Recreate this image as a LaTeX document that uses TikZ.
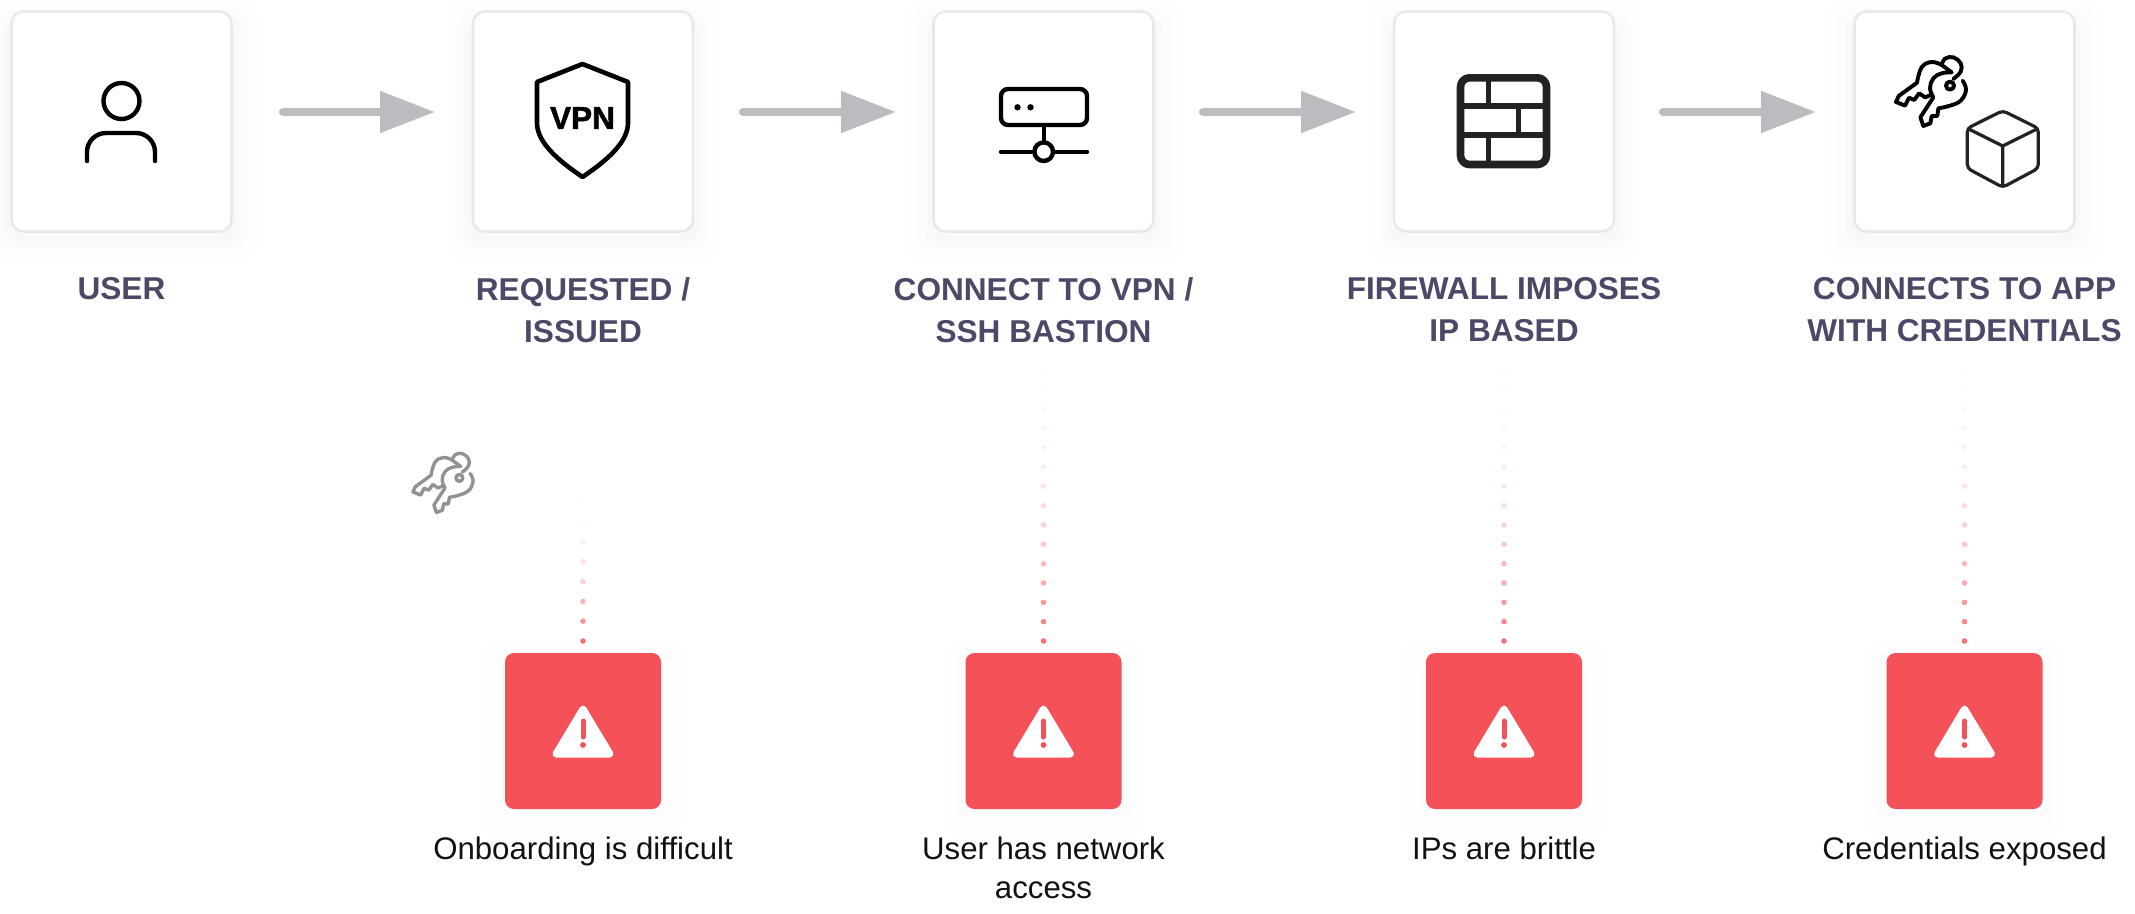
\documentclass[tikz,border=0pt]{standalone}
\usepackage{fontspec}
\setmainfont{Liberation Sans}
\newfontfamily\vpnfont{Liberation Sans}[FakeBold=1.6]
\usetikzlibrary{arrows.meta}
\definecolor{headc}{HTML}{4A4A68}
\definecolor{edgec}{HTML}{E8E8EF}
\definecolor{flowc}{HTML}{BBBCC0}
\definecolor{alertc}{HTML}{F45158}
\definecolor{ink}{HTML}{000000}
\definecolor{brick}{HTML}{222222}
\definecolor{labelc}{HTML}{111111}
\definecolor{keygray}{HTML}{8F9296}
\newcommand{\keysicon}[2]{%
  \begin{scope}[draw=#1,line width=#2,line join=round,line cap=round,tension=.7]
    \draw plot[smooth] coordinates {(215,75) (185,66) (155,82) (141,128)}
      -- (86,168) -- (78,186) -- (105,197) -- (117,173) -- (133,180) -- (147,160) -- (165,172) -- (183,165);
    \draw plot[smooth] coordinates {(278,122) (288,150) (272,182) (240,197) (205,205)}
      -- (202,228) -- (185,228) -- (181,250) -- (160,258) -- (151,232) -- (190,172);
    \draw plot[smooth] coordinates {(190,172) (180,145) (190,115) (215,100) (245,97)};
    \draw plot[smooth] coordinates {(215,75) (225,56) (250,52) (272,70) (272,95) (250,117)};
    \draw (215,75) -- (245,97);
    \draw (240,137) circle[radius=12];
  \end{scope}}
\tikzset{
  card/.style={draw=edgec,line width=2.6pt,fill=white,rounded corners=12pt,minimum width=220pt,minimum height=220pt,inner sep=0pt},
  alertbox/.style={fill=alertc,rounded corners=9pt,minimum width=156pt,minimum height=156pt,inner sep=0pt},
  head/.style={anchor=north,align=center,inner sep=0pt,text=headc,font=\bfseries\fontsize{31.6}{42}\selectfont},
  caption/.style={anchor=north,align=center,inner sep=0pt,text=labelc,font=\fontsize{31.2}{39.5}\selectfont},
  flow/.style={draw=flowc,line width=8pt,line cap=round,-{Triangle[length=55pt,width=40pt,fill=flowc,color=flowc]}},
  ico/.style={draw=ink,line width=4.4pt,line cap=round,line join=round},
  warn/.pic={
    \draw[fill=white,draw=white,line width=7pt,line join=round] (0,-22) -- (27,23) -- (-27,23) -- cycle;
    \draw[alertc,line width=5pt,line cap=round] (0,-10) -- (0,6);
    \fill[alertc] (0,14) circle[radius=2.9];
  }
}
\begin{document}
\begin{tikzpicture}[x=1pt,y=-1pt]
\useasboundingbox (0,0) rectangle (2135,913);
% soft shadows under the cards
\foreach \cx in {121.5,583,1043.5,1504,1964.5}{
  \foreach \g/\o in {26/0.008,20/0.01,14/0.012,9/0.016,5/0.024}{
    \fill[black!50!blue!40,opacity=\o,rounded corners=18pt]
      (\cx-110.5-\g,11-\g+12) rectangle (\cx+110.5+\g,232+\g+6);
  }
}
\foreach \cx in {583,1043.5,1504,1964.5}{
  \foreach \g/\o in {22/0.006,12/0.008,5/0.012}{
    \fill[black!50!blue!40,opacity=\o,rounded corners=14pt]
      (\cx-78-\g,653-\g+10) rectangle (\cx+78+\g,809+\g+6);
  }
}
% cards
\node[card] (c1) at (121.5,121.5) {};
\node[card] (c2) at (583,121.5) {};
\node[card] (c3) at (1043.5,121.5) {};
\node[card] (c4) at (1504,121.5) {};
\node[card] (c5) at (1964.5,121.5) {};
% arrows
\coordinate (s1) at (283,112); \coordinate (e1) at (435,112);
\coordinate (s2) at (743,112); \coordinate (e2) at (896,112);
\coordinate (s3) at (1203,112); \coordinate (e3) at (1356,112);
\coordinate (s4) at (1663,112); \coordinate (e4) at (1816,112);
\draw[flow] (s1) -- (e1);
\draw[flow] (s2) -- (e2);
\draw[flow] (s3) -- (e3);
\draw[flow] (s4) -- (e4);
% user icon
\draw[ico] (121.5,101) circle[radius=18];
\draw[ico] (87,161) -- (87,152) arc[start angle=180,end angle=270,radius=19] -- (136,133) arc[start angle=270,end angle=360,radius=19] -- (155,161);
% VPN icon
\draw[ico,line width=4.6pt,miter limit=3]
  (582.5,64) -- (537,82) -- (537,123) .. controls (537,145) and (565,165) .. (582.5,177)
  .. controls (600,165) and (628,145) .. (628,123) -- (628,82) -- cycle;
\node[inner sep=0pt,font=\vpnfont\bfseries\fontsize{31.5}{31.5}\selectfont,text=ink] (vpn) at (582.5,118) {VPN};
% server icon
\draw[ico,rounded corners=7pt] (1001,89) rectangle (1087,125);
\fill[ink] (1017.5,107.3) circle[radius=3.2] (1030.5,107.3) circle[radius=3.2];
\draw[ico] (1043.7,126) -- (1043.7,142);
\draw[ico] (1001,151.7) -- (1034,151.7) (1053.5,151.7) -- (1087,151.7);
\draw[ico] (1043.7,151.7) circle[radius=9.3];
% firewall icon
\draw[brick,line width=7.6pt,line join=round,rounded corners=9pt] (1460.5,77.8) rectangle (1546.5,164.5);
\draw[brick,line width=5.6pt]
  (1460,106) -- (1547,106) (1460,135) -- (1547,135)
  (1488.4,77) -- (1488.4,106) (1518.3,106) -- (1518.3,135) (1488.4,135) -- (1488.4,165);
% keys and cube
\begin{scope}[shift={(1870,40)},x=0.3333pt,y=-0.3333pt]
  \keysicon{ink}{3.9pt}
\end{scope}
\draw[brick,line width=3.2pt,line join=round,rounded corners=4pt]
  (2002.7,110.7) -- (1967.3,128.3) -- (1967.3,168.3) -- (2002.7,187.3) -- (2038.3,168.3) -- (2038.3,128.3) -- cycle;
\draw[brick,line width=3.2pt,line join=round]
  (1967.3,128.3) -- (2002.7,146) -- (2038.3,128.3) (2002.7,146) -- (2002.7,187.3);
\begin{scope}[shift={(390.7,438.7)},x=0.286pt,y=-0.286pt]
  \keysicon{keygray}{3.4pt}
\end{scope}
% headings
\node[head] (h1) at (121.5,277) {USER};
\node[head] (h2) at (583,277) {REQUESTED /\\ISSUED};
\node[head] (h3) at (1043.5,277) {CONNECT TO VPN /\\SSH BASTION};
\node[head] (h4) at (1504,277) {FIREWALL IMPOSES\\IP BASED};
\node[head] (h5) at (1964.5,277) {CONNECTS TO APP\\WITH CREDENTIALS};
% dotted leaders
\foreach \i in {0,...,7}{
  \pgfmathsetmacro{\o}{0.8*pow(1-\i/8,2.4)+0.015}
  \fill[alertc,opacity=\o] (583,641-19.8*\i) circle[radius=2.8];
}
\foreach \cx in {1043.5,1504,1964.5}{
  \foreach \i in {0,...,14}{
    \pgfmathsetmacro{\o}{0.8*pow(1-\i/15,2.4)+0.015}
    \fill[alertc,opacity=\o] (\cx,641-19.33*\i) circle[radius=2.8];
  }
}
% alert boxes
\node[alertbox] (r1) at (583,731) {};
\node[alertbox] (r2) at (1043.5,731) {};
\node[alertbox] (r3) at (1504,731) {};
\node[alertbox] (r4) at (1964.5,731) {};
\pic at (r1) {warn};
\pic at (r2) {warn};
\pic at (r3) {warn};
\pic at (r4) {warn};
% captions
\node[caption] (t1) at (583,836.5) {Onboarding is difficult};
\node[caption] (t2) at (1043.5,836.5) {User has network\\access};
\node[caption] (t3) at (1504,836.5) {IPs are brittle};
\node[caption] (t4) at (1964.5,836.5) {Credentials exposed};
\end{tikzpicture}
\end{document}
